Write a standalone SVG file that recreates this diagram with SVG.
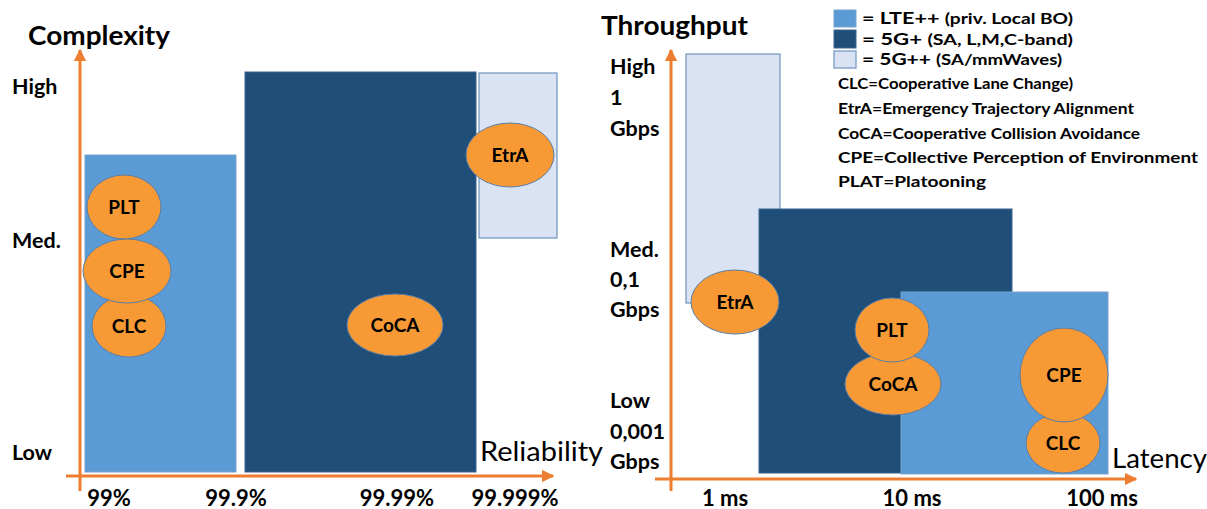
<svg xmlns="http://www.w3.org/2000/svg" width="1207" height="509" viewBox="0 0 1207 509">
<defs>
<marker id="arr" viewBox="0 0 10 10" refX="9" refY="5" markerWidth="4.2" markerHeight="4.2" orient="auto" markerUnits="strokeWidth">
<path d="M0,0 L10,5 L0,10 Z" fill="#ed7d31"/>
</marker>
</defs>
<style>
text{font-family:Lato,"Open Sans","Liberation Sans",sans-serif;fill:#000}
.lte{fill:#5b9bd5;stroke:#7ba3cf;stroke-width:1}
.g5{fill:#1f4e79;stroke:#3a6590;stroke-width:1}
.g55{fill:#dae3f3;stroke:#6f94bf;stroke-width:1.2}
.ell{fill:#f79a35;stroke:#5a7ea6;stroke-width:1}
.et{font-weight:700;font-size:19px;text-anchor:middle}
.ax{stroke:#ed7d31;stroke-width:3;fill:none}
.lbl{font-weight:700;font-size:21.5px}
.tick{font-weight:700;font-size:22px;text-anchor:middle}
.ttl{font-size:26px}
.leg{font-weight:700;font-size:16px}
</style>

<g id="left-bands">
<rect class="lte" x="85" y="155" width="151" height="317"/>
<rect class="g5" x="245" y="72" width="231" height="400"/>
<rect class="g55" x="479" y="73" width="78" height="165"/>
</g>

<g id="right-bands">
<rect class="g55" x="686" y="54" width="94" height="249"/>
<rect class="g5" x="759" y="209" width="253" height="264"/>
<rect class="lte" x="901" y="292" width="207" height="182"/>
</g>

<g id="connectors">
<line class="ax" x1="80" y1="491" x2="80" y2="50" marker-end="url(#arr)"/>
<line class="ax" x1="66" y1="476" x2="553" y2="476" marker-end="url(#arr)"/>
<line class="ax" x1="671" y1="491" x2="671" y2="50" marker-end="url(#arr)"/>
<line class="ax" x1="655" y1="479" x2="1136" y2="479" marker-end="url(#arr)"/>
</g>

<g id="left-PLT"><ellipse class="ell" cx="124" cy="207" rx="37" ry="32"/><text class="et" x="124" y="214">PLT</text></g>
<g id="left-CLC"><ellipse class="ell" cx="129" cy="326" rx="37" ry="31"/><text class="et" x="129" y="333">CLC</text></g>
<g id="left-CPE"><ellipse class="ell" cx="127" cy="271" rx="44" ry="32"/><text class="et" x="127" y="278">CPE</text></g>
<g id="left-CoCA"><ellipse class="ell" cx="395" cy="325" rx="48" ry="31"/><text class="et" x="395" y="332">CoCA</text></g>
<g id="left-EtrA"><ellipse class="ell" cx="510" cy="155" rx="44" ry="32"/><text class="et" x="510" y="162">EtrA</text></g>

<g id="right-EtrA"><ellipse class="ell" cx="735" cy="302" rx="44" ry="32"/><text class="et" x="735" y="309">EtrA</text></g>
<g id="right-CoCA"><ellipse class="ell" cx="893" cy="384" rx="48" ry="31"/><text class="et" x="893" y="391">CoCA</text></g>
<g id="right-PLT"><ellipse class="ell" cx="892" cy="330" rx="37" ry="32"/><text class="et" x="892" y="337">PLT</text></g>
<g id="right-CLC"><ellipse class="ell" cx="1063" cy="443" rx="37" ry="30"/><text class="et" x="1063" y="450">CLC</text></g>
<g id="right-CPE"><ellipse class="ell" cx="1064" cy="375" rx="44" ry="47"/><text class="et" x="1064" y="382">CPE</text></g>

<g id="left-labels">
<text x="28" y="45" font-size="26" font-weight="700" textLength="142" lengthAdjust="spacingAndGlyphs">Complexity</text>
<text class="lbl" x="12" y="94">High</text>
<text class="lbl" x="12" y="248">Med.</text>
<text class="lbl" x="12" y="460">Low</text>
<text class="ttl" x="480" y="461" textLength="123" lengthAdjust="spacingAndGlyphs">Reliability</text>
<text class="tick" x="109" y="506">99%</text>
<text class="tick" x="236" y="506">99.9%</text>
<text class="tick" x="397" y="506">99.99%</text>
<text class="tick" x="515" y="506">99.999%</text>
</g>

<g id="right-labels">
<text x="601" y="35" font-size="26" font-weight="700" textLength="147" lengthAdjust="spacingAndGlyphs">Throughput</text>
<text class="lbl" x="610" y="74">High</text>
<text class="lbl" x="610" y="105">1</text>
<text class="lbl" x="610" y="136">Gbps</text>
<text class="lbl" x="610" y="257">Med.</text>
<text class="lbl" x="610" y="287">0,1</text>
<text class="lbl" x="610" y="317">Gbps</text>
<text class="lbl" x="610" y="408">Low</text>
<text class="lbl" x="610" y="439">0,001</text>
<text class="lbl" x="610" y="469">Gbps</text>
<text class="ttl" x="1112" y="468" textLength="95" lengthAdjust="spacingAndGlyphs">Latency</text>
<text class="tick" x="725" y="506">1 ms</text>
<text class="tick" x="912" y="506">10 ms</text>
<text class="tick" x="1102" y="506">100 ms</text>
</g>

<g id="legend">
<rect class="lte" x="834" y="10" width="22" height="17"/>
<rect class="g5" x="834" y="30" width="22" height="18"/>
<rect class="g55" x="834" y="51" width="22" height="17"/>
<text x="862" y="24" textLength="211" lengthAdjust="spacingAndGlyphs"><tspan font-size="17.5" font-weight="700">= LTE++ </tspan><tspan font-size="15.5" font-weight="700">(priv. Local BO)</tspan></text>
<text x="862" y="44.5" textLength="211" lengthAdjust="spacingAndGlyphs"><tspan font-size="17.5" font-weight="700">= 5G+ </tspan><tspan font-size="15.5" font-weight="700">(SA, L,M,C-band)</tspan></text>
<text x="862" y="65" textLength="200" lengthAdjust="spacingAndGlyphs"><tspan font-size="17.5" font-weight="700">= 5G++ </tspan><tspan font-size="15.5" font-weight="700">(SA/mmWaves)</tspan></text>
<text class="leg" x="838" y="89" textLength="235" lengthAdjust="spacingAndGlyphs">CLC=Cooperative Lane Change)</text>
<text class="leg" x="838" y="114" textLength="296" lengthAdjust="spacingAndGlyphs">EtrA=Emergency Trajectory Alignment</text>
<text class="leg" x="838" y="139" textLength="302" lengthAdjust="spacingAndGlyphs">CoCA=Cooperative Collision Avoidance</text>
<text class="leg" x="838" y="163" textLength="360" lengthAdjust="spacingAndGlyphs">CPE=Collective Perception of Environment</text>
<text class="leg" x="838" y="187" textLength="148" lengthAdjust="spacingAndGlyphs">PLAT=Platooning</text>
</g>
</svg>
